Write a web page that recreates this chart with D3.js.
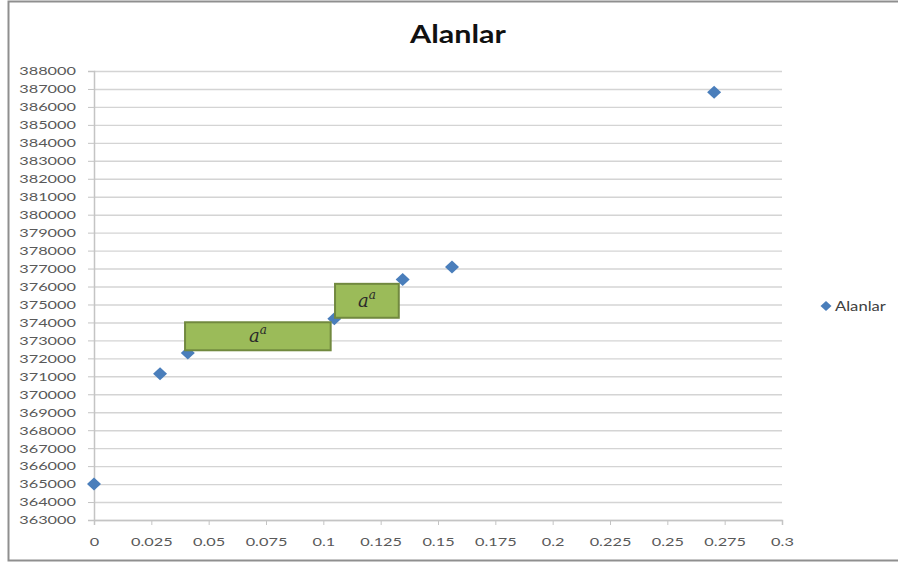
<!DOCTYPE html>
<html>
<head>
<meta charset="utf-8">
<script src="https://cdn.jsdelivr.net/npm/d3@7/dist/d3.min.js"></script>
<style>
  body { margin: 0; background: #fff; }
  svg { display: block; }
</style>
</head>
<body>
<svg id="chart" width="898" height="567"></svg>
<script>
// Series: Alanlar
const seriesName = "Alanlar";
const xValues = [0, 0.0288, 0.0409, 0.1048, 0.1346, 0.1561, 0.2704];
const yValues = [365000, 371150, 372300, 374200, 376390, 377080, 386810];

// Axis ticks
const xTicks = [0, 0.025, 0.05, 0.075, 0.1, 0.125, 0.15, 0.175, 0.2, 0.225, 0.25, 0.275, 0.3];
const xTickLabels = ["0", "0.025", "0.05", "0.075", "0.1", "0.125", "0.15", "0.175", "0.2", "0.225", "0.25", "0.275", "0.3"];
const yTicks = [363000, 364000, 365000, 366000, 367000, 368000, 369000, 370000, 371000,
  372000, 373000, 374000, 375000, 376000, 377000, 378000, 379000, 380000, 381000,
  382000, 383000, 384000, 385000, 386000, 387000, 388000];

// Annotation boxes (data units) and their text
const boxX0 = [0.0397, 0.1051];
const boxX1 = [0.1032, 0.1329];
const boxYTop = [374010, 376150];
const boxYBottom = [372450, 374260];
const boxBase = ["a", "a"];
const boxSup = ["a", "a"];

const svg = d3.select("#chart");
const W = 898, H = 567;
const plot = { left: 94, right: 782, top: 71, bottom: 520 };
const TEXT = "#595959";
const FONT = "Lato, 'Open Sans', sans-serif";
const SX = 1.36; // horizontal stretch of the lettering

const x = d3.scaleLinear().domain([0, 0.3]).range([plot.left, plot.right]);
const y = d3.scaleLinear().domain([363000, 388000]).range([plot.bottom, plot.top]);

// stretch a text element horizontally around its anchor point
function stretch(sel, sx) {
  sel.each(function () {
    const t = d3.select(this);
    const tx = +t.attr("x") || 0, ty = +t.attr("y") || 0;
    t.attr("x", 0).attr("y", 0)
      .attr("transform", `translate(${tx},${ty}) scale(${sx},1)`);
  });
}

// background + outer frame
svg.append("rect").attr("width", W).attr("height", H).attr("fill", "#fff");
svg.append("rect")
  .attr("x", 8.5).attr("y", 1.5)
  .attr("width", W + 10).attr("height", 559)
  .attr("fill", "none").attr("stroke", "#8f8f8f").attr("stroke-width", 2);

// title
svg.append("text")
  .attr("x", 458).attr("y", 43)
  .attr("text-anchor", "middle")
  .attr("font-family", FONT).attr("font-weight", 700).attr("font-size", 25)
  .attr("fill", "#111")
  .text(seriesName)
  .call(stretch, 1.22);

// horizontal gridlines
svg.append("g")
  .attr("transform", `translate(${plot.left},0)`)
  .call(d3.axisLeft(y).tickValues(yTicks).tickSize(-(plot.right - plot.left)).tickFormat(""))
  .call(g => g.select(".domain").remove())
  .call(g => g.selectAll("line").attr("stroke", "#d4d4d4").attr("stroke-width", 1.4));

// y axis
const yAxis = svg.append("g")
  .attr("transform", `translate(${plot.left},0)`)
  .call(d3.axisLeft(y).tickValues(yTicks).tickSize(6).tickPadding(12).tickFormat(d3.format("d")));
yAxis.select(".domain").attr("stroke", "#c4c4c4").attr("stroke-width", 1.5);
yAxis.selectAll(".tick line").attr("stroke", "#c4c4c4");
yAxis.selectAll("text")
  .attr("font-family", FONT).attr("font-size", 12).attr("fill", TEXT)
  .call(stretch, SX);

// x axis
const xAxis = svg.append("g")
  .attr("transform", `translate(0,${plot.bottom})`)
  .call(d3.axisBottom(x).tickValues(xTicks).tickSize(5).tickPadding(12)
    .tickFormat((d, i) => xTickLabels[i]));
xAxis.select(".domain").attr("stroke", "#c4c4c4").attr("stroke-width", 1.5);
xAxis.selectAll(".tick line").attr("stroke", "#c4c4c4");
xAxis.selectAll("text")
  .attr("font-family", FONT).attr("font-size", 12).attr("fill", TEXT)
  .call(stretch, SX);

// diamond marker
const diamond = "M0,-6.5L7,0L0,6.5L-7,0Z";
const MARK = "#4a7ebb";

svg.append("g")
  .selectAll("path")
  .data(xValues.map((v, i) => [v, yValues[i]]))
  .join("path")
  .attr("d", diamond)
  .attr("transform", d => `translate(${x(d[0])},${y(d[1])})`)
  .attr("fill", MARK);

// annotation boxes
const boxes = svg.append("g")
  .selectAll("g")
  .data(boxX0.map((v, i) => i))
  .join("g");
boxes.append("rect")
  .attr("x", i => x(boxX0[i]))
  .attr("y", i => y(boxYTop[i]))
  .attr("width", i => x(boxX1[i]) - x(boxX0[i]))
  .attr("height", i => y(boxYBottom[i]) - y(boxYTop[i]))
  .attr("fill", "#9bbb59")
  .attr("stroke", "#71893f")
  .attr("stroke-width", 2);
const label = boxes.append("text")
  .attr("x", i => (x(boxX0[i]) + x(boxX1[i])) / 2)
  .attr("y", i => (y(boxYTop[i]) + y(boxYBottom[i])) / 2 + 6)
  .attr("text-anchor", "middle")
  .attr("font-family", "'DejaVu Serif', 'Liberation Serif', serif")
  .attr("font-style", "italic")
  .attr("font-size", 18)
  .attr("fill", "#2b2b2b");
label.append("tspan").text(i => boxBase[i]);
label.append("tspan")
  .attr("dy", -8).attr("font-size", 12)
  .text(i => boxSup[i]);

// legend
const legend = svg.append("g").attr("transform", "translate(826,306)");
legend.append("path").attr("d", "M0,-5L5.5,0L0,5L-5.5,0Z").attr("fill", MARK);
legend.append("text")
  .attr("x", 9).attr("y", 4.5)
  .attr("font-family", FONT).attr("font-size", 12.5).attr("fill", "#404040")
  .text(seriesName)
  .call(stretch, 1.33);
</script>
</body>
</html>
